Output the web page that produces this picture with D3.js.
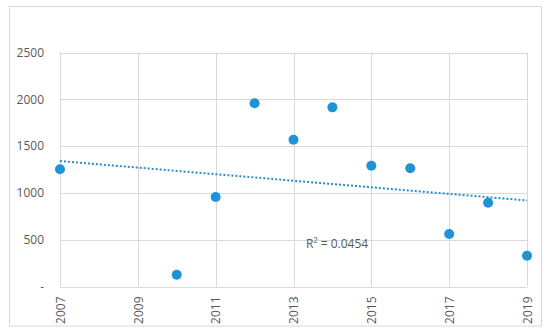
<!DOCTYPE html>
<html>
<head>
<meta charset="utf-8">
<script src="https://cdn.jsdelivr.net/npm/d3@7"></script>
<style>
	body { margin: 0; background: #fff; }
	text { font-family: "Open Sans", "Noto Sans", sans-serif; fill: #595959; }
</style>
</head>
<body>
<svg id="chart" width="550" height="335"></svg>
<script>
"use strict";

// data
var years = [2007, 2010, 2011, 2012, 2013, 2014, 2015, 2016, 2017, 2018, 2019];
var values = [1252, 126, 956, 1957, 1568, 1914, 1291, 1263, 561, 895, 329];
var yTicks = [0, 500, 1000, 1500, 2000, 2500];
var xTicks = [2007, 2009, 2011, 2013, 2015, 2017, 2019];
var r2Label = 'R\u00B2 = 0.0454';

var colors = {
	point: '#1f93d6',
	trend: '#2a8bc8',
	grid: '#d9d9d9',
	frame: '#d9d9d9'
};

var svg = d3.select('#chart');
var margin = { left: 60, right: 23, top: 52.5, bottom: 48.5 };
var W = 550, H = 335;

var x = d3.scaleLinear().domain([2007, 2019]).range([margin.left, W - margin.right]);
var y = d3.scaleLinear().domain([0, 2500]).range([H - margin.bottom, margin.top]);

// outer frame
svg.append('rect')
	.attr('x', 9.5).attr('y', 6.5)
	.attr('width', 532).attr('height', 319.5)
	.attr('fill', 'none')
	.attr('stroke', colors.frame);

// horizontal grid
svg.append('g')
	.selectAll('line')
	.data(yTicks)
	.join('line')
	.attr('x1', x(2007)).attr('x2', x(2019))
	.attr('y1', function(d){ return Math.round(y(d)) + 0.5; })
	.attr('y2', function(d){ return Math.round(y(d)) + 0.5; })
	.attr('stroke', colors.grid);

// vertical grid
svg.append('g')
	.selectAll('line')
	.data(xTicks)
	.join('line')
	.attr('x1', function(d){ return Math.round(x(d)) + 0.5; })
	.attr('x2', function(d){ return Math.round(x(d)) + 0.5; })
	.attr('y1', y(0)).attr('y2', y(2500))
	.attr('stroke', colors.grid);

// y axis labels
var yAxis = d3.axisLeft(y)
	.tickValues(yTicks)
	.tickSize(0)
	.tickPadding(16)
	.tickFormat(function(d){ return d === 0 ? '-' : d; });
var gy = svg.append('g').attr('transform', 'translate(' + margin.left + ',0)').call(yAxis);
gy.select('.domain').remove();
gy.selectAll('text').style('font-size', '12px').attr('fill', '#595959');

// x axis labels, rotated
var xAxis = d3.axisBottom(x)
	.tickValues(xTicks)
	.tickSize(0)
	.tickFormat(d3.format('d'));
var gx = svg.append('g').attr('transform', 'translate(0,' + y(0) + ')').call(xAxis);
gx.select('.domain').remove();
gx.selectAll('text')
	.style('font-size', '12px')
	.attr('fill', '#595959')
	.attr('text-anchor', 'end')
	.attr('dy', '0.35em')
	.attr('x', -10)
	.attr('y', 0)
	.attr('transform', 'rotate(-90)');

// linear trend (least squares)
var n = years.length;
var mx = d3.mean(years), my = d3.mean(values);
var sxy = d3.sum(years, function(d, i){ return (d - mx) * (values[i] - my); });
var sxx = d3.sum(years, function(d){ return (d - mx) * (d - mx); });
var slope = sxy / sxx;
var intercept = my - slope * mx;
var trend = x.domain().map(function(d){ return [d, intercept + slope * d]; });

svg.append('path')
	.datum(trend)
	.attr('d', d3.line().x(function(d){ return x(d[0]); }).y(function(d){ return y(d[1]); }))
	.attr('fill', 'none')
	.attr('stroke', colors.trend)
	.attr('stroke-width', 2)
	.attr('stroke-dasharray', '2 2');

// points
svg.append('g')
	.selectAll('circle')
	.data(years)
	.join('circle')
	.attr('cx', function(d){ return x(d); })
	.attr('cy', function(d, i){ return y(values[i]); })
	.attr('r', 5)
	.attr('fill', colors.point);

// R squared label
svg.append('text')
	.attr('x', 306).attr('y', 248)
	.style('font-size', '12px')
	.text(r2Label);
</script>
</body>
</html>
